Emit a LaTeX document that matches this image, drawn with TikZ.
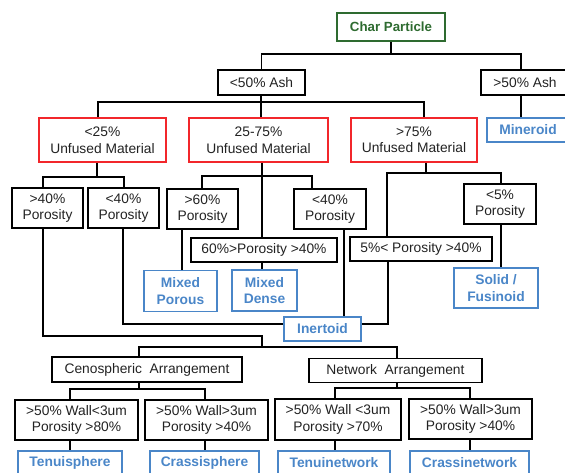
\documentclass[tikz,border=0pt]{standalone}
\usepackage{fontspec}
\setmainfont{Liberation Sans}
\definecolor{rbred}{HTML}{F2262B}
\definecolor{rbblue}{HTML}{4A86C8}
\definecolor{rbgreen}{HTML}{2E6B30}
\definecolor{rbtext}{HTML}{222222}
\begin{document}
\begin{tikzpicture}[x=1pt,y=-1pt,
  every node/.style={font=\fontsize{13.8}{16.5}\selectfont},
  bk/.style={draw=black,line width=1.8pt,inner sep=0pt,align=center,text=rbtext},
  rd/.style={bk,draw=rbred},
  bl/.style={bk,draw=rbblue,text=rbblue,font=\fontsize{13.8}{16.5}\selectfont\bfseries},
  gr/.style={bk,draw=rbgreen,text=rbgreen,font=\fontsize{13.3}{16}\selectfont\bfseries},
  sz/.style 2 args={minimum width=#1pt,minimum height=#2pt},
  ln/.style={line width=1.8pt,draw=black}]
\useasboundingbox (0,0) rectangle (565,472);
\clip (0,0) rectangle (565,472);

% nodes
\node[gr,sz={108}{28}] (char) at (391,27) {Char Particle};
\node[bk,sz={87}{25}] (ashlo) at (261.5,82.5) {<50\% Ash};
\node[bk,sz={88}{25}] (ashhi) at (525,82.5) {>50\% Ash};
\node[bl,sz={82}{24}] (mineroid) at (528,130) {Mineroid};

\node[rd,sz={127}{44}] (u25) at (102.5,140) {<25\%\\Unfused Material};
\node[rd,sz={139}{44}] (u2575) at (258.5,140) {25-75\%\\Unfused Material};
\node[rd,sz={126}{44}] (u75) at (414,140) {>75\%\\Unfused Material};

\node[bk,sz={71}{40}] (p40a) at (47.5,208) {>40\%\\Porosity};
\node[bk,sz={71}{40}] (p40b) at (123.5,208) {<40\%\\Porosity};
\node[bk,sz={71}{40}] (p60) at (202.5,209) {>60\%\\Porosity};
\node[bk,sz={72}{40}] (p40c) at (330,209) {<40\%\\Porosity};
\node[bk,sz={146}{24}] (p6040) at (264,250) {60\%>Porosity >40\%};
\node[bk,sz={142}{24}] (p540) at (421,249) {5\%< Porosity >40\%};
\node[bk,sz={72}{40}] (p5) at (500,204) {<5\%\\Porosity};

\node[bl,sz={73}{41}] (mporous) at (180.5,291) {Mixed\\Porous};
\node[bl,sz={65}{41}] (mdense) at (264.5,290.5) {Mixed\\Dense};
\node[bl,sz={84}{40}] (solid) at (496,288) {Solid /\\Fusinoid};
\node[bl,sz={77}{24}] (inertoid) at (322.5,329) {Inertoid};

\node[bk,sz={190}{25}] (ceno) at (147,369.5) {Cenospheric\ \ Arrangement};
\node[bk,sz={173}{24}] (network) at (395.5,370.5) {Network\ \ Arrangement};

\node[bk,sz={123}{40}] (w1) at (76.5,420) {>50\% Wall<3um\\Porosity >80\%};
\node[bk,sz={123}{40}] (w2) at (206.5,420) {>50\% Wall>3um\\Porosity >40\%};
\node[bk,sz={126}{41}] (w3) at (338,419.5) {>50\% Wall <3um\\Porosity >70\%};
\node[bk,sz={123}{40}] (w4) at (470.5,419) {>50\% Wall>3um\\Porosity >40\%};

\node[bl,sz={104}{24}] (tenuis) at (70,463) {Tenuisphere};
\node[bl,sz={109}{24}] (crassis) at (204.5,463) {Crassisphere};
\node[bl,sz={112}{24}] (tenuin) at (334,463) {Tenuinetwork};
\node[bl,sz={119}{24}] (crassin) at (469.5,463) {Crassinetwork};

% junction coordinates
\coordinate (jA) at (391,54);
\coordinate (xAsh) at (521,0);
\coordinate (jB) at (261,102);
\coordinate (xU25) at (98,0);
\coordinate (xU75) at (424,0);
\coordinate (jC) at (97,177);
\coordinate (xP40a) at (43,0);
\coordinate (xP40b) at (124,0);
\coordinate (jD) at (262,176);
\coordinate (xP60) at (202,0);
\coordinate (xP40c) at (312,0);
\coordinate (jE) at (426,173);
\coordinate (xP540) at (387,0);
\coordinate (xP5) at (501,0);
\coordinate (xMP) at (182,0);
\coordinate (xIn) at (344,0);
\coordinate (jF) at (388,324);
\coordinate (jG) at (123,324);
\coordinate (jH) at (43,336);
\coordinate (jI) at (262,347);
\coordinate (xCeno) at (139,0);
\coordinate (xNet) at (397,0);
\coordinate (jJ) at (139,389);
\coordinate (jK) at (397,388);
\coordinate (xW1) at (70,0);
\coordinate (xW2) at (205,0);
\coordinate (xW3) at (335,0);
\coordinate (xW4) at (470,0);

% connectors
\draw[ln] (char.south) -- (jA);
\draw[ln] (ashlo.north) |- (jA) -| (xAsh |- ashhi.north);
\draw[ln] (xAsh |- ashhi.south) -- (xAsh |- mineroid.north);

\draw[ln] (ashlo.south -| jB) -- (jB |- u2575.north);
\draw[ln] (xU25 |- u25.north) |- (jB) -| (xU75 |- u75.north);

\draw[ln] (jC |- u25.south) -- (jC);
\draw[ln] (xP40a |- p40a.north) |- (jC) -| (xP40b |- p40b.north);

\draw[ln] (jD |- u2575.south) -- (jD |- p6040.north);
\draw[ln] (xP60 |- p60.north) |- (jD) -| (xP40c |- p40c.north);

\draw[ln] (jE |- u75.south) -- (jE);
\draw[ln] (xP540 |- p540.north) |- (jE) -| (xP5 |- p5.north);

\draw[ln] (xMP |- p60.south) -- (xMP |- mporous.north);
\draw[ln] (jD |- p6040.south) -- (jD |- mdense.north);
\draw[ln] (xP5 |- p5.south) -- (xP5 |- solid.north);
\draw[ln] (xIn |- p40c.south) -- (xIn |- inertoid.north);
\draw[ln] (jF |- p540.south) -- (jF) -- (jF -| inertoid.east);
\draw[ln] (jG |- p40b.south) -- (jG) -- (jG -| inertoid.west);

\draw[ln] (jH |- p40a.south) -- (jH) -| (jI);
\draw[ln] (xCeno |- ceno.north) |- (jI) -| (xNet |- network.north);

\draw[ln] (jJ |- ceno.south) -- (jJ);
\draw[ln] (xW1 |- w1.north) |- (jJ) -| (xW2 |- w2.north);
\draw[ln] (jK |- network.south) -- (jK);
\draw[ln] (xW3 |- w3.north) |- (jK) -| (xW4 |- w4.north);

\draw[ln] (xW1 |- w1.south) -- (xW1 |- tenuis.north);
\draw[ln] (xW2 |- w2.south) -- (xW2 |- crassis.north);
\draw[ln] (xW3 |- w3.south) -- (xW3 |- tenuin.north);
\draw[ln] (xW4 |- w4.south) -- (xW4 |- crassin.north);
\end{tikzpicture}
\end{document}
